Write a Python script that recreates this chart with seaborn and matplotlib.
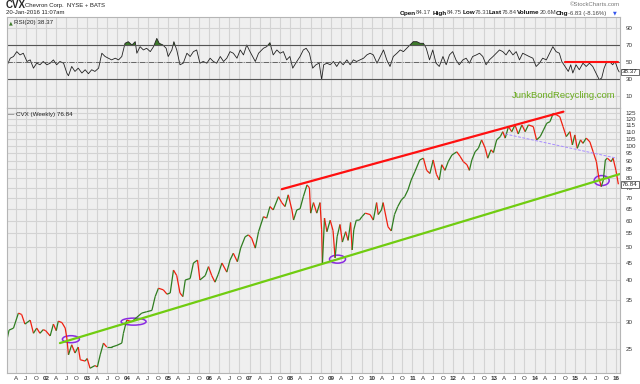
import numpy as np
import matplotlib
matplotlib.use('Agg')
import matplotlib.pyplot as plt
import seaborn as sns
from matplotlib.collections import LineCollection
from matplotlib.patches import Ellipse
from matplotlib.transforms import ScaledTranslation, blended_transform_factory

# weekly close of CVX (decimal years)
price_years = [2001.03, 2001.09, 2001.20, 2001.32, 2001.40, 2001.48, 2001.61, 2001.69, 2001.77, 2001.85,
               2001.93, 2001.99, 2002.10, 2002.18, 2002.25, 2002.30, 2002.39, 2002.47, 2002.51, 2002.55,
               2002.63, 2002.71, 2002.79, 2002.84, 2002.96, 2003.01, 2003.08, 2003.20, 2003.26, 2003.33,
               2003.41, 2003.49, 2003.61, 2003.74, 2003.86, 2003.90, 2003.98, 2004.11, 2004.23, 2004.35,
               2004.47, 2004.60, 2004.68, 2004.76, 2004.88, 2004.97, 2005.05, 2005.13, 2005.21, 2005.29,
               2005.36, 2005.42, 2005.54, 2005.62, 2005.72, 2005.78, 2005.91, 2005.99, 2006.07, 2006.15,
               2006.23, 2006.32, 2006.44, 2006.52, 2006.60, 2006.70, 2006.78, 2006.89, 2006.97, 2007.05,
               2007.14, 2007.22, 2007.34, 2007.42, 2007.50, 2007.58, 2007.71, 2007.79, 2007.87, 2007.95,
               2008.04, 2008.08, 2008.16, 2008.24, 2008.32, 2008.41, 2008.47, 2008.50, 2008.57, 2008.65,
               2008.73, 2008.77, 2008.79, 2008.84, 2008.90, 2008.98, 2009.05, 2009.10, 2009.15, 2009.22,
               2009.28, 2009.36, 2009.42, 2009.48, 2009.52, 2009.56, 2009.62, 2009.70, 2009.76, 2009.84,
               2009.96, 2010.04, 2010.12, 2010.16, 2010.24, 2010.28, 2010.40, 2010.48, 2010.56, 2010.64,
               2010.73, 2010.81, 2010.89, 2010.97, 2011.06, 2011.18, 2011.27, 2011.35, 2011.43, 2011.51,
               2011.59, 2011.66, 2011.72, 2011.80, 2011.88, 2011.97, 2012.09, 2012.17, 2012.25, 2012.34,
               2012.40, 2012.46, 2012.54, 2012.62, 2012.70, 2012.79, 2012.85, 2012.93, 2012.99, 2013.07,
               2013.16, 2013.22, 2013.28, 2013.36, 2013.44, 2013.52, 2013.60, 2013.69, 2013.77, 2013.85,
               2013.97, 2014.05, 2014.14, 2014.22, 2014.30, 2014.38, 2014.46, 2014.54, 2014.62, 2014.70,
               2014.78, 2014.87, 2014.93, 2014.99, 2015.05, 2015.13, 2015.19, 2015.27, 2015.36, 2015.44,
               2015.52, 2015.58, 2015.64, 2015.69, 2015.74, 2015.79, 2015.88, 2015.93, 2016.00, 2016.06]
price_close = [26.3, 28.4, 28.8, 31.9, 31.6, 29.6, 30.4, 27.8, 28.8, 27.8,
               28.5, 28.3, 27.3, 29.6, 28.3, 30.2, 29.9, 28.8, 26.9, 24.0,
               25.7, 24.3, 25.3, 23.2, 23.0, 23.4, 21.9, 22.3, 22.1, 24.0,
               26.0, 25.3, 25.3, 25.6, 26.0, 27.8, 30.4, 30.1, 31.0, 31.9,
               32.2, 32.5, 35.7, 37.8, 37.4, 36.3, 36.6, 42.8, 41.2, 36.6,
               35.7, 40.0, 40.4, 44.9, 45.8, 40.0, 41.2, 43.8, 41.2, 39.4,
               41.6, 44.9, 42.2, 45.8, 48.0, 45.3, 49.7, 53.7, 54.4, 53.2,
               49.7, 55.6, 61.6, 61.0, 66.0, 64.5, 70.6, 67.8, 66.0, 71.5,
               64.5, 60.2, 64.5, 65.0, 70.6, 76.5, 75.0, 63.1, 67.8, 63.1,
               67.8, 56.3, 44.9, 61.0, 55.6, 60.1, 56.0, 46.5, 53.7, 58.4,
               51.8, 55.6, 52.4, 59.2, 49.1, 56.3, 60.1, 60.2, 61.6, 63.1,
               62.5, 60.2, 67.8, 62.5, 64.5, 67.8, 57.5, 55.9, 62.5, 66.0,
               69.1, 70.6, 73.9, 79.1, 83.7, 90.7, 91.8, 84.5, 82.7, 90.7,
               82.2, 79.1, 87.8, 84.5, 89.7, 93.8, 95.9, 93.0, 89.7, 87.8,
               84.5, 90.7, 95.9, 98.2, 104.0, 98.2, 91.8, 97.2, 95.4, 104.0,
               106.4, 110.0, 105.3, 113.9, 110.0, 115.2, 108.3, 115.2, 110.0, 115.2,
               113.9, 104.0, 106.4, 111.3, 116.5, 117.8, 124.7, 123.3, 121.9, 113.9,
               106.4, 110.0, 100.5, 107.6, 98.2, 104.0, 101.6, 105.3, 102.6, 95.9,
               89.7, 80.3, 75.6, 79.1, 90.7, 91.8, 89.7, 91.8, 84.5, 76.84]

# RSI(20)
rsi_years = [2001.03, 2001.12, 2001.20, 2001.28, 2001.36, 2001.44, 2001.53, 2001.61, 2001.69, 2001.77,
             2001.85, 2001.93, 2002.02, 2002.10, 2002.18, 2002.26, 2002.34, 2002.43, 2002.51, 2002.55,
             2002.63, 2002.71, 2002.79, 2002.88, 2002.96, 2003.04, 2003.12, 2003.20, 2003.29, 2003.37,
             2003.45, 2003.53, 2003.61, 2003.70, 2003.78, 2003.86, 2003.94, 2004.02, 2004.11, 2004.19,
             2004.23, 2004.31, 2004.39, 2004.47, 2004.56, 2004.64, 2004.72, 2004.78, 2004.87, 2004.95,
             2005.00, 2005.09, 2005.14, 2005.21, 2005.29, 2005.37, 2005.46, 2005.54, 2005.62, 2005.70,
             2005.78, 2005.86, 2005.95, 2006.03, 2006.11, 2006.19, 2006.28, 2006.36, 2006.44, 2006.52,
             2006.60, 2006.69, 2006.77, 2006.85, 2006.93, 2007.01, 2007.14, 2007.22, 2007.34, 2007.42,
             2007.50, 2007.58, 2007.67, 2007.75, 2007.83, 2007.91, 2007.99, 2008.06, 2008.16, 2008.24,
             2008.32, 2008.39, 2008.47, 2008.55, 2008.63, 2008.71, 2008.77, 2008.82, 2008.90, 2008.98,
             2009.06, 2009.14, 2009.22, 2009.30, 2009.39, 2009.47, 2009.55, 2009.63, 2009.71, 2009.80,
             2009.88, 2009.96, 2010.04, 2010.13, 2010.21, 2010.29, 2010.37, 2010.45, 2010.53, 2010.62,
             2010.70, 2010.78, 2010.86, 2010.94, 2011.02, 2011.11, 2011.19, 2011.27, 2011.34, 2011.42,
             2011.50, 2011.58, 2011.66, 2011.75, 2011.83, 2011.91, 2011.99, 2012.07, 2012.15, 2012.24,
             2012.32, 2012.40, 2012.48, 2012.57, 2012.65, 2012.73, 2012.81, 2012.89, 2012.98, 2013.06,
             2013.14, 2013.22, 2013.30, 2013.38, 2013.47, 2013.55, 2013.63, 2013.71, 2013.79, 2013.87,
             2013.96, 2014.04, 2014.12, 2014.20, 2014.29, 2014.37, 2014.45, 2014.53, 2014.61, 2014.67,
             2014.75, 2014.83, 2014.89, 2014.94, 2015.02, 2015.10, 2015.19, 2015.27, 2015.35, 2015.43,
             2015.51, 2015.59, 2015.65, 2015.71, 2015.76, 2015.84, 2015.92, 2015.98, 2016.05, 2016.08]
rsi_values = [44.9, 54.7, 56.7, 62.5, 58.6, 60.6, 50.8, 52.7, 42.9, 48.8,
              46.9, 50.8, 46.9, 48.8, 52.7, 46.9, 50.8, 48.8, 37.1, 33.9,
              44.9, 39.0, 42.9, 37.1, 41.0, 36.3, 41.0, 39.0, 42.9, 60.6,
              56.7, 54.7, 52.7, 54.7, 52.7, 56.7, 72.4, 74.3, 70.4, 74.3,
              60.6, 68.4, 64.5, 66.5, 62.5, 68.4, 78.2, 72.4, 70.4, 66.5,
              56.7, 64.5, 74.3, 64.5, 46.9, 48.8, 60.6, 56.7, 62.5, 64.5,
              48.8, 50.8, 48.8, 54.7, 50.8, 48.8, 56.7, 50.8, 54.7, 62.5,
              60.6, 54.7, 64.5, 58.6, 70.4, 62.5, 50.8, 60.6, 66.5, 68.4,
              73.1, 58.6, 64.5, 60.6, 62.5, 52.7, 56.7, 42.9, 50.8, 56.7,
              64.5, 66.5, 60.6, 42.9, 46.9, 48.8, 29.2, 46.9, 48.8, 46.9,
              50.8, 44.9, 50.8, 46.9, 52.7, 46.9, 52.7, 50.8, 52.7, 54.7,
              58.6, 60.6, 58.6, 48.8, 56.7, 64.5, 52.7, 44.9, 56.7, 60.6,
              64.5, 62.5, 66.5, 70.4, 74.3, 74.3, 72.4, 72.4, 66.5, 52.7,
              64.5, 48.8, 44.9, 56.7, 46.9, 58.6, 62.5, 52.7, 46.9, 52.7,
              54.7, 48.8, 56.7, 58.6, 60.6, 56.7, 46.9, 52.7, 56.7, 60.6,
              64.5, 62.5, 58.6, 64.5, 58.6, 62.5, 52.7, 60.6, 58.6, 56.7,
              54.7, 44.9, 48.8, 54.7, 52.7, 60.6, 68.4, 62.5, 60.6, 50.8,
              44.9, 39.0, 46.9, 37.1, 46.9, 41.0, 48.8, 44.9, 48.8, 44.9,
              37.1, 29.2, 31.2, 42.9, 48.8, 50.8, 46.9, 50.8, 41.0, 38.37]

# hand drawn annotations
red_line_years = [2007.79, 2014.71]
red_line_prices = [74.3, 126.1]
green_line_years = [2002.34, 2016.14]
green_line_prices = [26.0, 82.7]
purple_line_years = [2013.28, 2016.02]
purple_line_prices = [108.3, 91.8]
rsi_mark_years = [2014.75, 2016.06]
rsi_mark_values = [50.5, 50.5]
circle_years = [2002.61, 2004.15, 2009.16, 2015.65]
circle_prices = [26.7, 30.1, 46.1, 78.8]
circle_px = [(17, 7), (25, 7), (16, 8), (15, 10)]

price_ticks = [25, 30, 35, 40, 45, 50, 55, 60, 65, 70, 75, 80, 85, 90, 95, 100, 105, 110, 115, 120, 125]
rsi_ticks = [10, 30, 50, 70, 90]

sns.set_style('whitegrid', {'axes.facecolor': '#efefef', 'grid.color': '#d3d3d3',
                            'axes.edgecolor': '#b5b5b5', 'axes.linewidth': 0.8})
plt.rcParams['font.family'] = ['Liberation Sans', 'DejaVu Sans']

fig = plt.figure(figsize=(6.4, 3.84), dpi=100)
ax_rsi = fig.add_axes([7 / 640, 1 - 108 / 384, 613 / 640, 91 / 384])
ax = fig.add_axes([7 / 640, 1 - 373 / 384, 613 / 640, 265 / 384])

xlim = (2001.04, 2016.10)
xt, xl = [], []
for yr in range(2001, 2017):
    for m, lab in ((0, '%02d' % (yr % 100)), (3, 'A'), (6, 'J'), (9, 'O')):
        p = yr + m / 12
        if xlim[0] < p < xlim[1]:
            xt.append(p)
            xl.append(lab)

# ---- RSI panel
ry = np.array(rsi_years)
rv = np.array(rsi_values)
sns.lineplot(x=ry, y=rv, ax=ax_rsi, color='#222222', lw=0.6)
ax_rsi.fill_between(ry, rv, 70, where=rv > 70, interpolate=True, color='#3d7a2a', lw=0)
ax_rsi.axhline(70, color='#555555', lw=0.8)
ax_rsi.axhline(30, color='#555555', lw=0.8)
ax_rsi.axhline(50, color='#555555', lw=0.6, ls='-.')
sns.lineplot(x=rsi_mark_years, y=rsi_mark_values, ax=ax_rsi, color='#ff1010', lw=1.5)
ax_rsi.set_xlim(xlim)
ax_rsi.set_ylim(-4.4, 103.6)
ax_rsi.set_yticks(rsi_ticks)
ax_rsi.set_xticks(xt)
ax_rsi.set_xticklabels([])
ax_rsi.yaxis.tick_right()
ax_rsi.tick_params(length=0, labelsize=4.5, pad=4, colors='#333333')
ax_rsi.text(1.003, 38.37, '38.37', transform=blended_transform_factory(ax_rsi.transAxes, ax_rsi.transData),
            fontsize=4.5, va='center', ha='left',
            bbox=dict(boxstyle='square,pad=0.15', fc='white', ec='#333333', lw=0.5))
ax_rsi.text(0.004, 0.96, '\u25b2', transform=ax_rsi.transAxes, color='#3d7a2a', fontsize=3.5, va='top',
            family=['DejaVu Sans'])
ax_rsi.text(0.012, 0.965, 'RSI(20) 38.37', transform=ax_rsi.transAxes, fontsize=4.5, va='top', color='#222222')
ax_rsi.text(0.908, 0.14, 'JunkBondRecycling.com', transform=ax_rsi.transAxes, fontsize=6.8,
            color='#6aac1e', ha='center', va='center')
ax_rsi.set_xlabel('')
ax_rsi.set_ylabel('')

# ---- price panel
px = np.array(price_years)
pc = np.array(price_close)
pts = np.column_stack([px, pc]).reshape(-1, 1, 2)
segs = np.concatenate([pts[:-1], pts[1:]], axis=1)
cols = np.where(np.diff(pc) >= 0, '#2f7d20', '#f02010')
ax.set_yscale('log')
ax.add_collection(LineCollection(segs, colors=cols, lw=0.9))

sns.lineplot(x=red_line_years, y=red_line_prices, ax=ax, color='#ff1010', lw=1.6)
sns.lineplot(x=green_line_years, y=green_line_prices, ax=ax, color='#70cc10', lw=1.6)
ax.plot(purple_line_years, purple_line_prices, color='#a88cff', lw=0.7, ls=(0, (3, 1.5)))

for cx, cy, (w, h) in zip(circle_years, circle_prices, circle_px):
    e = Ellipse((0, 0), w / 100, h / 100, fill=False, ec='#8a2be2', lw=1.1,
                transform=fig.dpi_scale_trans + ScaledTranslation(cx, cy, ax.transData))
    ax.add_patch(e)

ax.set_xlim(xlim)
ax.set_ylim(21.2, 129.3)
ax.set_yticks(price_ticks)
ax.set_yticklabels([str(t) for t in price_ticks])
ax.minorticks_off()
ax.yaxis.tick_right()
ax.set_xticks(xt)
ax.set_xticklabels(xl)
for t in ax.get_xticklabels():
    if t.get_text() not in ('A', 'J', 'O'):
        t.set_fontweight('bold')
ax.tick_params(length=0, labelsize=4.5, pad=2.5, colors='#333333')
ax.tick_params(axis='y', pad=4)
ax.text(1.003, 76.84, '76.84', transform=blended_transform_factory(ax.transAxes, ax.transData),
        fontsize=4.5, va='center', ha='left',
        bbox=dict(boxstyle='square,pad=0.15', fc='white', ec='#333333', lw=0.5))
ax.text(0.002, 0.985, '\u2014 CVX (Weekly) 76.84', transform=ax.transAxes, fontsize=4.5, va='top',
        color='#222222')
ax.set_xlabel('')
ax.set_ylabel('')

# ---- header
fig.text(6 / 640, 1 - 5 / 384, 'CVX', fontsize=7, fontweight='bold', va='center')
fig.text(25 / 640, 1 - 5 / 384, 'Chevron Corp.  NYSE + BATS', fontsize=4.3, va='center', color='#222222')
fig.text(6 / 640, 1 - 13 / 384, '20-Jan-2016 11:07am', fontsize=4.3, va='center', color='#222222')
fig.text(620 / 640, 1 - 5 / 384, '\u00a9StockCharts.com', fontsize=4.3, va='center', ha='right', color='#777777')
header = [(400, 'Open', True), (416, '84.17', False), (433, 'High', True), (447, '84.75', False),
          (463, 'Low', True), (475, '76.31', False), (489, 'Last', True), (502, '76.84', False),
          (517, 'Volume', True), (540, '20.6M', False), (556, 'Chg', True), (568, '-6.83 (-8.16%)', False)]
for hx, s, b in header:
    fig.text(hx / 640, 1 - 13 / 384, s, fontsize=4.6 if b else 4.3, fontweight='bold' if b else 'normal',
             va='center', color='#111111' if b else '#444444')
fig.text(613 / 640, 1 - 13 / 384, '\u25bc', fontsize=3.5, va='center', color='#3355ee', family=['DejaVu Sans'])

fig.savefig('out.png', dpi=100, facecolor='white')
